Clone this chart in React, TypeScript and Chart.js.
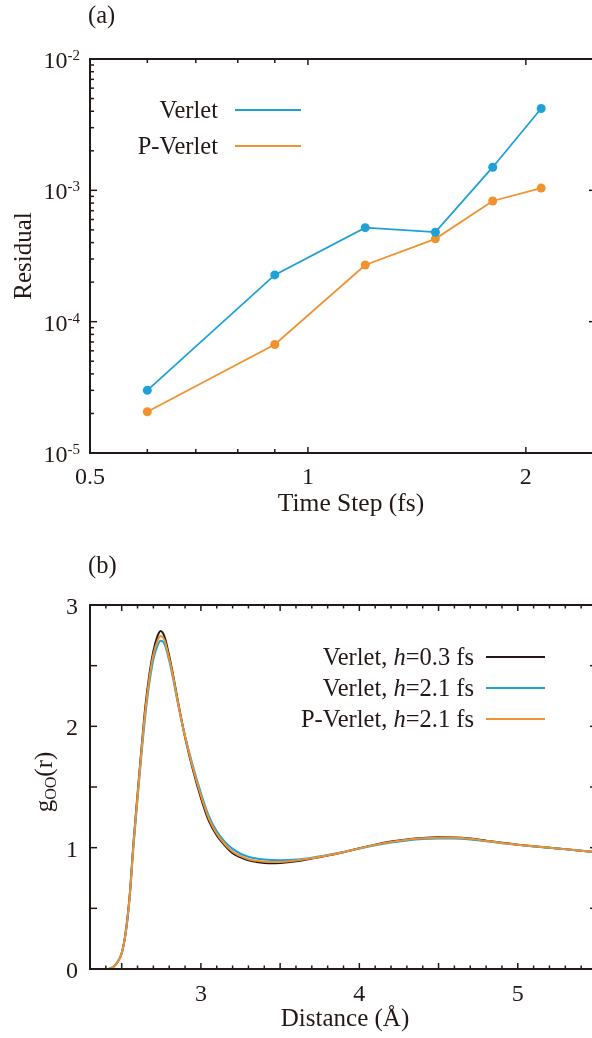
import React, { useEffect, useRef } from "react";
import { Chart, registerables } from "chart.js";

Chart.register(...registerables);

// ---------- Panel (a) data ----------
const timeSteps = [0.6, 0.9, 1.2, 1.5, 1.8, 2.1];
const verletResidual = [3.0e-5, 2.27e-4, 5.2e-4, 4.8e-4, 1.5e-3, 4.2e-3];
const pVerletResidual = [2.06e-5, 6.7e-5, 2.7e-4, 4.27e-4, 8.3e-4, 1.04e-3];
const residualXTicks = [0.5, 1, 2];
const residualXTickLabels = ["0.5", "1", "2"];
const residualXMinorTicks = [0.6, 0.7, 0.8, 0.9];
const residualYExponents = [-5, -4, -3, -2];
const residualLegend = ["Verlet", "P-Verlet"];

// ---------- Panel (b) data ----------
const distance = [
  2.3, 2.35, 2.4, 2.425, 2.45, 2.475, 2.5, 2.525, 2.55, 2.575, 2.6, 2.625, 2.65, 2.675, 2.7, 2.725,
  2.745, 2.77, 2.8, 2.825, 2.85, 2.875, 2.9, 2.95, 3.0, 3.05, 3.1, 3.15, 3.2, 3.25, 3.3, 3.35, 3.4,
  3.45, 3.5, 3.6, 3.7, 3.8, 3.9, 4.0, 4.1, 4.2, 4.3, 4.4, 4.5, 4.6, 4.7, 4.8, 4.9, 5.0, 5.1, 5.2,
  5.3, 5.4, 5.5,
];
const gVerlet03 = [
  0, 0, 0, 0.003, 0.02, 0.06, 0.13, 0.3, 0.6, 1.05, 1.44, 1.82, 2.17, 2.43, 2.62, 2.74,
  2.785, 2.74, 2.58, 2.42, 2.24, 2.07, 1.91, 1.64, 1.41, 1.22, 1.1, 1.02, 0.955, 0.92, 0.895, 0.882, 0.874,
  0.871, 0.874, 0.888, 0.91, 0.935, 0.962, 0.995, 1.025, 1.05, 1.068, 1.08, 1.085, 1.084, 1.075, 1.058, 1.04, 1.025, 1.012, 1.0,
  0.988, 0.975, 0.962,
];
const gVerlet21 = [
  0, 0, 0, 0.003, 0.02, 0.06, 0.13, 0.29, 0.58, 1.02, 1.4, 1.77, 2.1, 2.36, 2.55, 2.66,
  2.705, 2.68, 2.54, 2.39, 2.22, 2.06, 1.92, 1.67, 1.45, 1.26, 1.135, 1.05, 0.99, 0.95, 0.925, 0.91, 0.902,
  0.898, 0.897, 0.902, 0.918, 0.94, 0.965, 0.993, 1.02, 1.043, 1.06, 1.071, 1.075, 1.075, 1.068, 1.053, 1.037, 1.023, 1.01, 0.999,
  0.987, 0.975, 0.963,
];
const gPVerlet21 = [
  0, 0, 0, 0.003, 0.02, 0.06, 0.13, 0.3, 0.59, 1.04, 1.42, 1.8, 2.14, 2.4, 2.59, 2.7,
  2.745, 2.71, 2.56, 2.41, 2.23, 2.065, 1.915, 1.655, 1.43, 1.24, 1.115, 1.03, 0.967, 0.93, 0.905, 0.892, 0.884,
  0.881, 0.882, 0.894, 0.913, 0.937, 0.963, 0.994, 1.023, 1.047, 1.065, 1.077, 1.082, 1.081, 1.073, 1.056, 1.039, 1.024, 1.011, 1.0,
  0.988, 0.975, 0.962,
];
const gXTicks = [3, 4, 5];
const gYTicks = [0, 1, 2, 3];
const gLegend = [
  { name: "Verlet, ", h: "0.3 fs" },
  { name: "Verlet, ", h: "2.1 fs" },
  { name: "P-Verlet, ", h: "2.1 fs" },
];

// ---------- Styles ----------
const INK = "#231815";
const BLUE = "#1fa0d6";
const ORANGE = "#ef922f";
const SERIF = "'Liberation Serif', 'Times New Roman', serif";
const FS = 24.5;

type Part = { t: string; italic?: boolean; size?: number; dy?: number };

function richWidth(ctx: CanvasRenderingContext2D, parts: Part[], base: number) {
  let w = 0;
  for (const p of parts) {
    ctx.font = `${p.italic ? "italic " : ""}${p.size ?? base}px ${SERIF}`;
    w += ctx.measureText(p.t).width;
  }
  return w;
}

function drawRich(
  ctx: CanvasRenderingContext2D,
  parts: Part[],
  x: number,
  y: number,
  align: "left" | "right" | "center",
  base: number = FS
) {
  const w = richWidth(ctx, parts, base);
  let cx = align === "left" ? x : align === "right" ? x - w : x - w / 2;
  ctx.textAlign = "left";
  ctx.textBaseline = "alphabetic";
  ctx.fillStyle = INK;
  for (const p of parts) {
    ctx.font = `${p.italic ? "italic " : ""}${p.size ?? base}px ${SERIF}`;
    ctx.fillText(p.t, cx, y + (p.dy ?? 0));
    cx += ctx.measureText(p.t).width;
  }
}

function line(ctx: CanvasRenderingContext2D, x1: number, y1: number, x2: number, y2: number) {
  ctx.beginPath();
  ctx.moveTo(x1, y1);
  ctx.lineTo(x2, y2);
  ctx.stroke();
}

const drawPanelA = (chart: any) => {
  const ctx: CanvasRenderingContext2D = chart.ctx;
  const { left, right, top, bottom } = chart.chartArea;
  const xs = chart.scales.x;
  const ys = chart.scales.y;
  ctx.save();
  ctx.strokeStyle = INK;
  ctx.lineWidth = 1.5;
  residualXTicks.forEach((v) => {
    const px = xs.getPixelForValue(v);
    line(ctx, px, bottom, px, bottom - 6);
    line(ctx, px, top, px, top + 6);
  });
  residualXMinorTicks.forEach((v) => {
    const px = xs.getPixelForValue(v);
    line(ctx, px, bottom, px, bottom - 4);
    line(ctx, px, top, px, top + 4);
  });
  residualYExponents.forEach((e) => {
    const py = ys.getPixelForValue(Math.pow(10, e));
    line(ctx, left, py, left + 7, py);
    line(ctx, right, py, right - 7, py);
    if (e < residualYExponents[residualYExponents.length - 1]) {
      for (let m = 2; m <= 9; m++) {
        const pm = ys.getPixelForValue(m * Math.pow(10, e));
        line(ctx, left, pm, left + 4, pm);
        line(ctx, right, pm, right - 4, pm);
      }
    }
  });
  ctx.lineWidth = 2;
  ctx.strokeRect(left, top, right - left, bottom - top);

  // tick labels
  residualXTicks.forEach((v, i) => {
    const px = xs.getPixelForValue(v);
    drawRich(ctx, [{ t: residualXTickLabels[i] }], px, bottom + 31, "center", 24);
  });
  residualYExponents.forEach((e) => {
    const py = ys.getPixelForValue(Math.pow(10, e));
    drawRich(ctx, [{ t: "10" }, { t: String(e), size: 15, dy: -8 }], 80, py + 9, "right", 24);
  });

  // titles
  drawRich(ctx, [{ t: "(a)" }], 88, 23, "left");
  drawRich(ctx, [{ t: "Time Step (fs)" }], 351, bottom + 58, "center", 25.5);
  ctx.save();
  ctx.translate(31, (top + bottom) / 2);
  ctx.rotate(-Math.PI / 2);
  drawRich(ctx, [{ t: "Residual" }], 0, 0, "center", 25);
  ctx.restore();

  // legend
  const colors = [BLUE, ORANGE];
  residualLegend.forEach((name, i) => {
    const y = 110 + i * 36;
    drawRich(ctx, [{ t: name }], 218, y + 8, "right");
    ctx.strokeStyle = colors[i];
    ctx.lineWidth = 2;
    line(ctx, 235, y, 301, y);
  });
  ctx.restore();
};

const drawPanelB = (chart: any) => {
  const ctx: CanvasRenderingContext2D = chart.ctx;
  const { left, right, top, bottom } = chart.chartArea;
  const xs = chart.scales.x;
  const ys = chart.scales.y;
  ctx.save();
  ctx.strokeStyle = INK;
  ctx.lineWidth = 1.5;
  const xmin = xs.min;
  const xmax = xs.max;
  for (let k = Math.ceil(xmin * 10 + 1e-6); k <= Math.floor(xmax * 10 - 1e-6); k++) {
    const v = k / 10;
    const px = xs.getPixelForValue(v);
    const len = k % 5 === 0 ? 6 : 3.5;
    line(ctx, px, bottom, px, bottom - len);
    line(ctx, px, top, px, top + len);
  }
  for (let k = 1; k <= 5; k++) {
    const py = ys.getPixelForValue(k / 2);
    line(ctx, left, py, left + 7, py);
    line(ctx, right, py, right - 7, py);
  }
  ctx.lineWidth = 2;
  ctx.strokeRect(left, top, right - left, bottom - top);

  gXTicks.forEach((v) => {
    const px = xs.getPixelForValue(v);
    drawRich(ctx, [{ t: String(v) }], px, bottom + 32, "center", 24);
  });
  gYTicks.forEach((v) => {
    const py = ys.getPixelForValue(v);
    drawRich(ctx, [{ t: String(v) }], 78, py + 9, "right", 24);
  });

  drawRich(ctx, [{ t: "(b)" }], 88, 38, "left");
  drawRich(ctx, [{ t: "Distance (Å)" }], 345, bottom + 57, "center", 25);
  ctx.save();
  ctx.translate(52, (top + bottom) / 2 - 5);
  ctx.rotate(-Math.PI / 2);
  drawRich(ctx, [{ t: "g" }, { t: "OO", size: 16, dy: 4 }, { t: "(r)" }], 0, 0, "center", 25);
  ctx.restore();

  const colors = [INK, BLUE, ORANGE];
  gLegend.forEach((row, i) => {
    const y = 122 + i * 31;
    drawRich(ctx, [{ t: row.name }, { t: "h", italic: true }, { t: "=" + row.h }], 474, y + 8, "right");
    ctx.strokeStyle = colors[i];
    ctx.lineWidth = 2;
    line(ctx, 486, y, 545, y);
  });
  ctx.restore();
};

function PanelA() {
  const ref = useRef<HTMLCanvasElement | null>(null);
  useEffect(() => {
    if (!ref.current) return;
    const chart = new Chart(ref.current, {
      type: "line",
      data: {
        datasets: [
          {
            label: "Verlet",
            data: timeSteps.map((x, i) => ({ x, y: verletResidual[i] })),
            borderColor: BLUE,
            backgroundColor: BLUE,
            borderWidth: 1.8,
            pointRadius: 4.5,
            pointBorderWidth: 0,
            pointBackgroundColor: BLUE,
            tension: 0,
          },
          {
            label: "P-Verlet",
            data: timeSteps.map((x, i) => ({ x, y: pVerletResidual[i] })),
            borderColor: ORANGE,
            backgroundColor: ORANGE,
            borderWidth: 1.8,
            pointRadius: 4.5,
            pointBorderWidth: 0,
            pointBackgroundColor: ORANGE,
            tension: 0,
          },
        ],
      },
      options: {
        responsive: false,
        animation: false,
        devicePixelRatio: 1,
        layout: { padding: { left: 90, top: 59, right: 24, bottom: 77 } },
        plugins: { legend: { display: false }, tooltip: { enabled: false } },
        scales: {
          x: { type: "logarithmic", min: 0.5, max: 2.5, display: false },
          y: { type: "logarithmic", min: 1e-5, max: 1e-2, display: false },
        },
      },
      plugins: [{ id: "panelA", afterDraw: drawPanelA }],
    });
    return () => chart.destroy();
  }, []);
  return (
    <canvas
      ref={ref}
      width={620}
      height={530}
      style={{ position: "absolute", left: 0, top: 0, width: 620, height: 530 }}
    />
  );
}

function PanelB() {
  const ref = useRef<HTMLCanvasElement | null>(null);
  useEffect(() => {
    if (!ref.current) return;
    const mk = (label: string, ys: number[], color: string, order: number) => ({
      label,
      data: distance.map((x, i) => ({ x, y: ys[i] })),
      borderColor: color,
      backgroundColor: color,
      borderWidth: 2,
      pointRadius: 0,
      cubicInterpolationMode: "monotone" as const,
      order,
    });
    const chart = new Chart(ref.current, {
      type: "line",
      data: {
        datasets: [
          mk("Verlet, h=0.3 fs", gVerlet03, INK, 3),
          mk("Verlet, h=2.1 fs", gVerlet21, BLUE, 2),
          mk("P-Verlet, h=2.1 fs", gPVerlet21, ORANGE, 1),
        ],
      },
      options: {
        responsive: false,
        animation: false,
        devicePixelRatio: 1,
        layout: { padding: { left: 90, top: 70, right: 23, bottom: 69 } },
        plugins: { legend: { display: false }, tooltip: { enabled: false } },
        scales: {
          x: { type: "linear", min: 2.3, max: 5.5, display: false },
          y: { type: "linear", min: 0, max: 3, display: false },
        },
      },
      plugins: [{ id: "panelB", afterDraw: drawPanelB }],
    });
    return () => chart.destroy();
  }, []);
  return (
    <canvas
      ref={ref}
      width={620}
      height={503}
      style={{ position: "absolute", left: 0, top: 535, width: 620, height: 503 }}
    />
  );
}

export default function App() {
  return (
    <div
      style={{
        position: "fixed",
        left: 0,
        top: 0,
        width: 592,
        height: 1038,
        overflow: "hidden",
        background: "#ffffff",
      }}
    >
      <PanelA />
      <PanelB />
    </div>
  );
}
